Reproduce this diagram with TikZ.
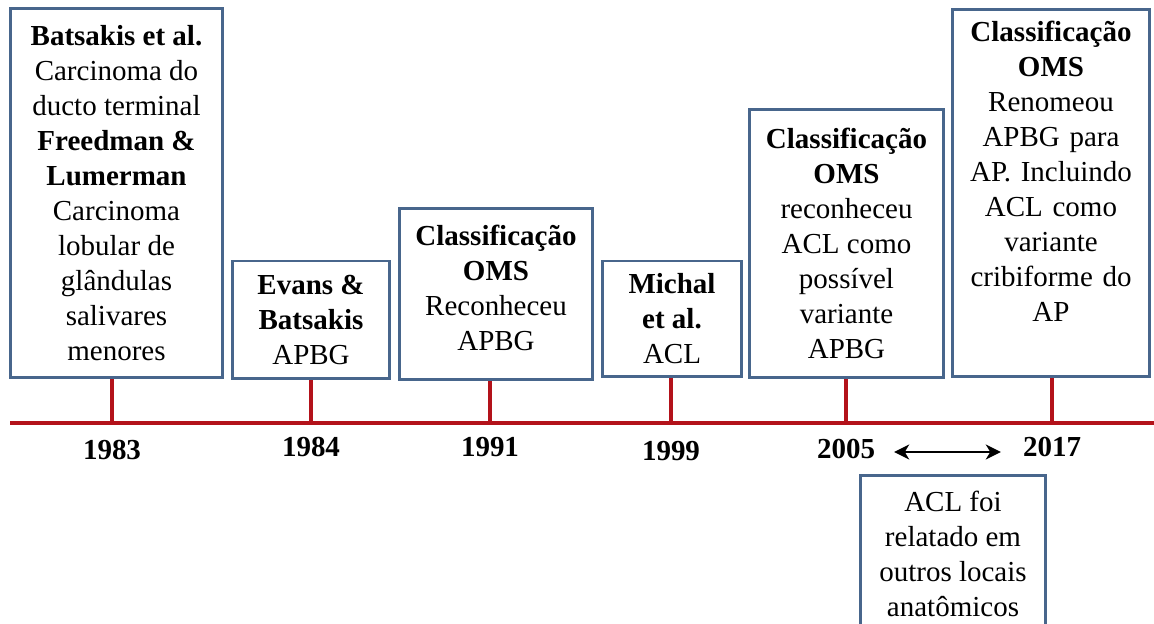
\documentclass[tikz,border=0pt]{standalone}
\usepackage{fontspec}
\setmainfont{Liberation Serif}
\usetikzlibrary{positioning, arrows.meta}
\definecolor{boxblue}{HTML}{48668C}
\definecolor{axisred}{HTML}{B3121A}
\begin{document}
\begin{tikzpicture}[x=0.02cm, y=-0.02cm, >={Stealth[length=8.5pt, width=8.5pt, inset=2.5pt]},
		every node/.style={font=\fontsize{16.5}{19.9}\selectfont},
		evbox/.style={draw=boxblue, line width=1.7pt, fill=white, align=center, inner sep=0pt},
		year/.style={font=\fontsize{16.5}{19.9}\selectfont\bfseries},
		stem/.style={draw=axisred, line width=2.3pt}]
	% 0. 画布范围
	\useasboundingbox (0,0) rectangle (1154,624);
	
	% 1. 时间轴
	\coordinate (tl) at (10,423);
	\coordinate (tr) at (1160,423);
	\draw[stem] (tl) -- (tr);
	
	% 2. 年份标签
	\node[year] (y1983) at (112,450) {1983};
	\node[year] (y1984) at (311,447) {1984};
	\node[year] (y1991) at (490,447) {1991};
	\node[year] (y1999) at (671,451) {1999};
	\node[year] (y2005) at (846,449) {2005};
	\node[year] (y2017) at (1052,447) {2017};
	
	% 3. 事件方框
	\node[evbox, minimum width=4.26cm, minimum height=7.4cm] (b1983) at (116.5,193)
		{\textbf{Batsakis et al.}\\Carcinoma do\\ducto terminal\\\textbf{Freedman \&}\\\textbf{Lumerman}\\Carcinoma\\lobular de\\glândulas\\salivares\\menores};
	\node[evbox, minimum width=3.16cm, minimum height=2.36cm] (b1984) at (311,320)
		{\textbf{Evans \&}\\\textbf{Batsakis}\\APBG};
	\node[evbox, text width=3.8cm, minimum width=3.88cm, text height=21.5pt, text depth=76.3pt] (b1991) at (496,294)
		{\textbf{Classificação}\\\textbf{OMS}\\Reconheceu\\APBG};
	\node[evbox, minimum width=2.8cm, minimum height=2.32cm] (b1999) at (672,319)
		{\textbf{Michal}\\\textbf{et al.}\\ACL};
	\node[evbox, minimum width=3.9cm, minimum height=5.38cm] (b2005) at (846.5,243.5)
		{\textbf{Classificação}\\\textbf{OMS}\\reconheceu\\ACL como\\possível\\variante\\APBG};
	\node[evbox, text width=3.8cm, minimum width=3.96cm, text height=18.6pt, text depth=190.8pt] (b2017) at (1051,193)
		{\textbf{Classificação}\\\textbf{OMS}\\Renomeou\\APBG para\\AP. Incluindo\\ACL como\\variante\\cribiforme do\\AP};
	\node[evbox, minimum width=3.72cm, minimum height=3.14cm] (bext) at (953,553.5)
		{ACL foi\\relatado em\\outros locais\\anatômicos};
	
	% 4. 竖线连接方框与时间轴
	\foreach \yr in {1983,1984,1991,1999,2005,2017}
		\draw[stem] (b\yr.south -| y\yr) -- (tl -| y\yr);
	
	% 5. 2005--2017 双向箭头
	\draw[<->, line width=1.5pt] ([xshift=0.26cm, yshift=-0.06cm]y2005.east) -- ([xshift=-0.32cm, yshift=-0.06cm]y2005.east -| y2017.west);
\end{tikzpicture}
\end{document}
